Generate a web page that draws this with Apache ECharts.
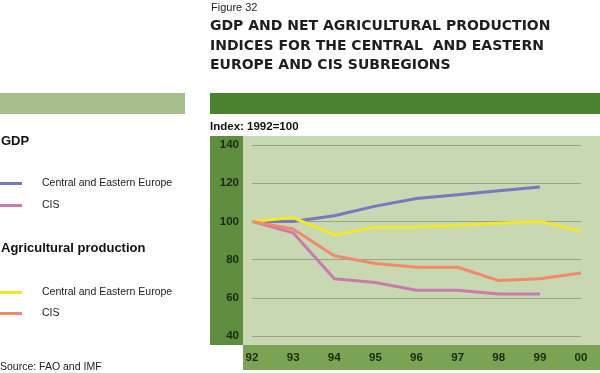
<!DOCTYPE html>
<html><head><meta charset="utf-8">
<script src="https://cdn.jsdelivr.net/npm/echarts@6/dist/echarts.min.js"></script>
<style>html,body{margin:0;padding:0;background:#fff}#c{width:600px;height:373px}</style>
</head><body><div id="c"></div>
<script>
var years = ['92','93','94','95','96','97','98','99','00'];
var yTicks = [40, 60, 80, 100, 120, 140];
var gdpCEE = [100, 100, 103, 108, 112, 114, 116, 118, null];
var gdpCIS = [100, 94, 70, 68, 64, 64, 62, 62, null];
var agriCEE = [100, 102, 93, 97, 97, 98, 99, 100, 95];
var agriCIS = [100, 96, 82, 78, 76, 76, 69, 70, 73];
var seriesNames = ['Central and Eastern Europe', 'CIS', 'Central and Eastern Europe ', 'CIS '];

var chart = echarts.init(document.getElementById('c'), null, {renderer: 'canvas'});
var F = 'Liberation Sans, Arial, sans-serif';
var FT = 'DejaVu Sans, sans-serif';
function line(name, data, color) {
  return {type: 'line', name: name, data: data, symbol: 'none', smooth: false,
    lineStyle: {color: color, width: 3}, itemStyle: {color: color}, z: 5};
}
chart.setOption({
  animation: false,
  title: [
    {text: 'Figure 32', left: 211, top: 2, padding: 0, textStyle: {fontFamily: F, fontSize: 11, fontWeight: 'normal', color: '#222'}},
    {text: 'GDP AND NET AGRICULTURAL PRODUCTION\nINDICES FOR THE CENTRAL  AND EASTERN\nEUROPE AND CIS SUBREGIONS', left: 210, top: 17, padding: 0,
      textStyle: {fontFamily: FT, fontSize: 14, fontWeight: 'bold', color: '#1e1e1e', lineHeight: 19.3}},
    {text: 'Index: 1992=100', left: 210, top: 121, padding: 0, textStyle: {fontFamily: F, fontSize: 11.5, fontWeight: 'bold', color: '#111'}},
    {text: 'GDP', left: 1, top: 135, padding: 0, textStyle: {fontFamily: F, fontSize: 13, fontWeight: 'bold', color: '#111'}},
    {text: 'Agricultural production', left: 1, top: 242, padding: 0, textStyle: {fontFamily: F, fontSize: 13, fontWeight: 'bold', color: '#111'}},
    {text: 'Source: FAO and IMF', left: 0, top: 362, padding: 0, textStyle: {fontFamily: F, fontSize: 10.5, fontWeight: 'normal', color: '#222'}}
  ],
  legend: [
    {data: [seriesNames[0], seriesNames[1]], orient: 'vertical', left: 0, top: 178, padding: 0, itemWidth: 22, itemHeight: 3, icon: 'rect', itemGap: 11,
      textStyle: {fontFamily: F, fontSize: 10.5, color: '#222', padding: [0, 0, 0, 15]}, selectedMode: false},
    {data: [seriesNames[2], seriesNames[3]], orient: 'vertical', left: 0, top: 287, padding: 0, itemWidth: 22, itemHeight: 3, icon: 'rect', itemGap: 10,
      textStyle: {fontFamily: F, fontSize: 10.5, color: '#222', padding: [0, 0, 0, 15]}, selectedMode: false}
  ],
  graphic: [
    {type: 'rect', shape: {x: 0, y: 93, width: 185, height: 21}, style: {fill: '#a6be8c'}, z: -10},
    {type: 'rect', shape: {x: 210, y: 93, width: 390, height: 21}, style: {fill: '#4a822e'}, z: -10},
    {type: 'rect', shape: {x: 210, y: 136, width: 33, height: 209}, style: {fill: '#5f8e3e'}, z: -10},
    {type: 'rect', shape: {x: 243, y: 136, width: 357, height: 209}, style: {fill: '#c8d8b2'}, z: -10},
    {type: 'rect', shape: {x: 243, y: 345, width: 357, height: 25}, style: {fill: '#7ba354'}, z: -10}
  ],
  grid: {left: 252, right: 19, top: 145, bottom: 37, containLabel: false},
  xAxis: {type: 'category', data: years, boundaryGap: false,
    axisLine: {show: false}, axisTick: {show: false},
    axisLabel: {margin: 16, fontFamily: F, fontSize: 11.5, fontWeight: 'bold', color: '#1a2a10'},
    splitLine: {show: false}},
  yAxis: {type: 'value', min: yTicks[0], max: yTicks[yTicks.length - 1], interval: 20,
    axisLine: {show: false}, axisTick: {show: false},
    axisLabel: {margin: 13, fontFamily: F, fontSize: 11.5, fontWeight: 'bold', color: '#1a2a10'},
    splitLine: {show: true, lineStyle: {color: '#97a585', width: 1}}},
  series: [
    line(seriesNames[0], gdpCEE, '#7778bd'),
    line(seriesNames[1], gdpCIS, '#c97bab'),
    line(seriesNames[2], agriCEE, '#f3e82c'),
    line(seriesNames[3], agriCIS, '#f08a6c')
  ]
});
</script></body></html>
